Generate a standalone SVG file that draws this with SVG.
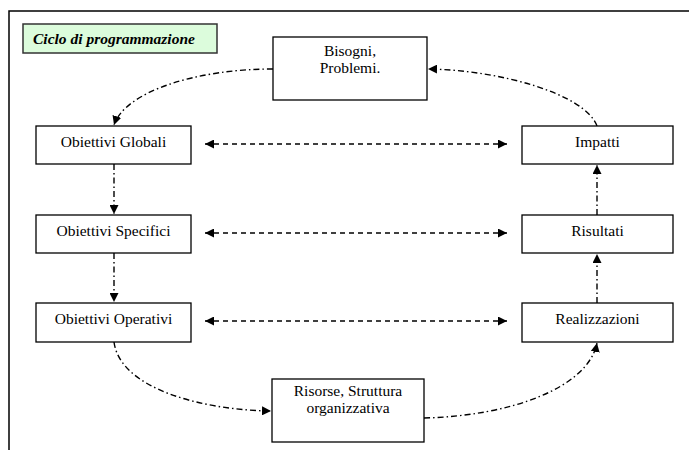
<svg xmlns="http://www.w3.org/2000/svg" width="689" height="450" viewBox="0 0 689 450">
  <defs>
    <marker id="arrow" viewBox="0 0 10 10" refX="10" refY="5" markerWidth="9" markerHeight="9" markerUnits="userSpaceOnUse" orient="auto-start-reverse">
      <path d="M0,0 L10,5 L0,10 Z" fill="#000"/>
    </marker>
    <style>
      .box { fill: #fff; stroke: #000; stroke-width: 1.3; }
      .title-box { fill: #dcfcdc; stroke: #333; stroke-width: 1.5; }
      .lbl { font-family: "Liberation Serif", "Times New Roman", serif; font-size: 15.5px; fill: #000; text-anchor: middle; }
      .title { font-family: "Liberation Serif", "Times New Roman", serif; font-size: 15.5px; font-weight: bold; font-style: italic; fill: #000; }
      .flow { fill: none; stroke: #000; stroke-width: 1.4; stroke-dasharray: 6 3 1.5 3; marker-end: url(#arrow); }
      .link { fill: none; stroke: #000; stroke-width: 1.4; stroke-dasharray: 5 4; marker-start: url(#arrow); marker-end: url(#arrow); }
      .frame { fill: none; stroke: #000; stroke-width: 1.5; }
    </style>
  </defs>

  <rect width="689" height="450" fill="#fff"/>

  <!-- page frame: top and left edges -->
  <path class="frame" d="M9,450 V11 H689"/>

  <g id="title">
    <rect class="title-box" x="23" y="24" width="194" height="29"/>
    <text class="title" x="33" y="44">Ciclo di programmazione</text>
  </g>

  <g id="connectors">
    <!-- cycle -->
    <path class="flow" d="M273,69 C195,69 125,92 114,125"/>
    <path class="flow" d="M114,164 V214"/>
    <path class="flow" d="M114,253 V302"/>
    <path class="flow" d="M114,342 C120,388 200,410 271,411"/>
    <path class="flow" d="M424,418 C510,416 588,388 597,343"/>
    <path class="flow" d="M597,303 V254"/>
    <path class="flow" d="M597,215 V165"/>
    <path class="flow" d="M597,126 C585,94 500,70 428,69"/>
    <!-- correspondences -->
    <path class="link" d="M205,144 H507"/>
    <path class="link" d="M205,233 H507"/>
    <path class="link" d="M205,321 H507"/>
  </g>

  <g id="bisogni">
    <rect class="box" x="273" y="37" width="154" height="63"/>
    <text class="lbl" x="350" y="56">Bisogni,</text>
    <text class="lbl" x="350" y="73">Problemi.</text>
  </g>

  <g id="obiettivi-globali">
    <rect class="box" x="36" y="126" width="155" height="38"/>
    <text class="lbl" x="113.5" y="147">Obiettivi Globali</text>
  </g>

  <g id="obiettivi-specifici">
    <rect class="box" x="36" y="215" width="155" height="38"/>
    <text class="lbl" x="113.5" y="236">Obiettivi Specifici</text>
  </g>

  <g id="obiettivi-operativi">
    <rect class="box" x="36" y="303" width="155" height="39"/>
    <text class="lbl" x="113.5" y="324">Obiettivi Operativi</text>
  </g>

  <g id="impatti">
    <rect class="box" x="522" y="126" width="151" height="38"/>
    <text class="lbl" x="597.5" y="147">Impatti</text>
  </g>

  <g id="risultati">
    <rect class="box" x="522" y="215" width="151" height="38"/>
    <text class="lbl" x="597.5" y="236">Risultati</text>
  </g>

  <g id="realizzazioni">
    <rect class="box" x="522" y="303" width="151" height="39"/>
    <text class="lbl" x="597.5" y="324">Realizzazioni</text>
  </g>

  <g id="risorse">
    <rect class="box" x="272" y="379" width="152" height="63"/>
    <text class="lbl" x="348" y="396">Risorse, Struttura</text>
    <text class="lbl" x="348" y="413">organizzativa</text>
  </g>
</svg>
